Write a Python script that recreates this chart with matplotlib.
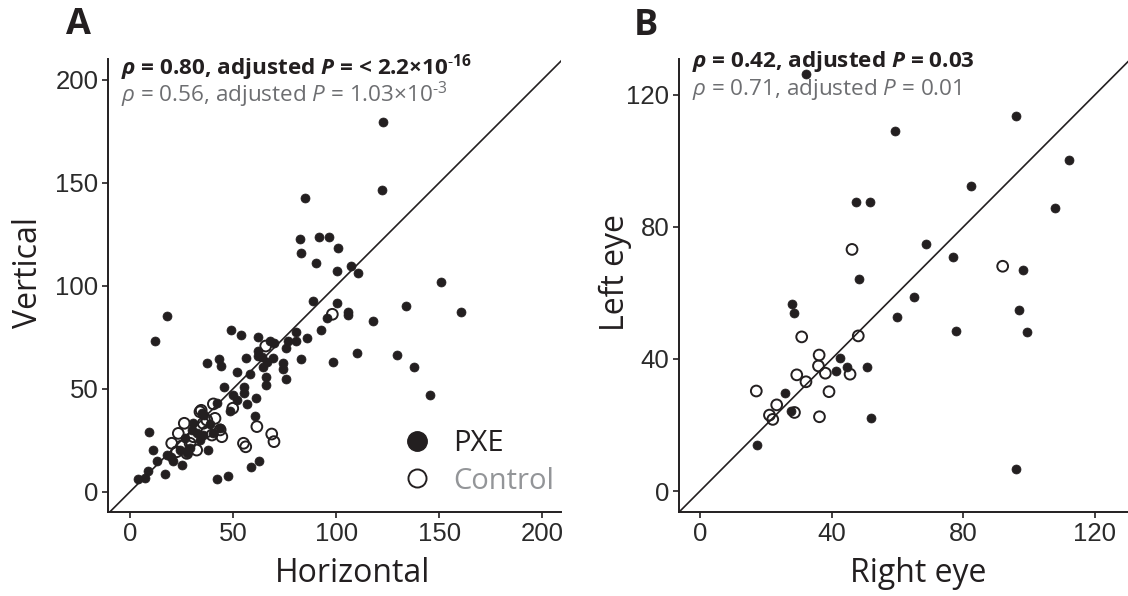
import matplotlib
matplotlib.use("Agg")
import matplotlib.pyplot as plt
from matplotlib.lines import Line2D

# ---------------- data ----------------
# Panel A: PXE (filled) horizontal / vertical
pxe_a_x = [122.5, 122, 84.7, 82.6, 82.9, 91.8, 96.5, 101, 90.2, 100.5, 107, 110.7,
           150.8, 133.8, 160.3, 88.9, 100.2, 105.9, 105.9, 95.4, 118, 92.6, 80.3, 80.3,
           76.8, 85.7, 75.8, 82.7, 98.3, 110.2, 129.6, 137.9, 145.6, 17.9, 12.3, 49.1,
           53.7, 62.2, 67.9, 69.8, 56.1, 61.9, 61.9, 37.5, 43.3, 44.3, 51.7, 58.2,
           63.9, 64.6, 66, 66, 69.5, 74, 74, 75.5, 66.3, 45.6, 55.3, 55.3, 50.1, 51.7,
           56.6, 61.1, 48.5, 42, 60.6, 9.4, 11.3, 12.9, 8.9, 4, 7.3, 17.1, 58.5, 62.7,
           42.3, 47.7, 17.8, 21, 25, 29.1, 32.3, 34.8, 38, 40.4, 43.6, 26.7, 30.7,
           33.9, 35.5, 27.5, 36, 39, 30, 24, 20]
pxe_a_y = [179.6, 146.6, 142.7, 122.7, 116, 123.6, 123.8, 118.4, 111.2, 107.3, 109.7, 106,
           101.8, 90.1, 87.4, 92.6, 91.4, 87.4, 85.8, 84.2, 82.7, 78.5, 77.5, 73.3,
           73.3, 74.5, 69.6, 64.4, 63.1, 67.2, 66.2, 60.4, 47.1, 85.4, 73.3, 78.5,
           76.1, 75, 73.3, 72, 64.8, 66, 68.4, 62.6, 64.4, 61, 58, 57.1,
           65.5, 60.7, 55.8, 51.8, 64.8, 62.3, 59.4, 54.6, 63.1, 51, 50.7, 47.8, 46.9, 44.5,
           42.6, 45.3, 39.3, 42.9, 36.9, 28.8, 20.2, 14.9, 10, 6.2, 6.8, 8.6, 11.8, 15,
           6, 7.8, 17.8, 14.9, 13, 21, 28.3, 38, 20.2, 28.3, 30.8, 25.9, 33.2,
           25.1, 27.5, 18.6, 37, 33, 30, 20, 17]
# Panel A: Control (open)
ctl_a_x = [98.1, 65.8, 61.5, 55, 56.1, 68.7, 69.8, 49.8, 40.4, 33.9, 41.2, 26.3, 23.4,
           20.2, 22.6, 27.5, 32.3, 30.7, 37.2, 37.2, 44.5, 39.7, 35.5, 29.1, 25, 34.5, 43.7]
ctl_a_y = [86.1, 70.7, 31.6, 23.5, 21.8, 28, 24.3, 40.5, 42.6, 38.8, 35.6, 33.2, 28.3,
           23.5, 19.4, 18.6, 20.2, 26.7, 29.1, 34.8, 26.7, 27.5, 33.2, 23.5, 22.2, 39.5, 30]

# Panel B: PXE right eye / left eye
pxe_b_x = [32.1, 96, 59.3, 112.2, 82.5, 47.3, 51.7, 107.9, 68.7, 76.8, 98.1, 48.3, 65,
           59.9, 28, 28.7, 96.9, 77.7, 99.3, 42.5, 41.4, 44.6, 50.9, 25.8, 27.6, 52.1,
           17.3, 96]
pxe_b_y = [126.3, 113.6, 109.2, 100.4, 92.3, 87.6, 87.6, 85.7, 74.9, 71, 67, 64.3, 58.7,
           52.6, 56.7, 53.8, 54.8, 48.6, 48.3, 40.4, 36.4, 37.5, 37.7, 29.6, 24.2, 22.2,
           13.9, 6.7]
# Panel B: Control
ctl_b_x = [46.2, 92, 48.1, 30.9, 36.2, 36, 38.1, 45.6, 29.4, 32.2, 39.2, 17.1, 23.3,
           21.1, 22.1, 28.7, 36.3]
ctl_b_y = [73.2, 68.1, 47, 46.7, 41.2, 37.9, 35.7, 35.4, 35.2, 33.1, 30.1, 30.3, 26.1,
           23, 21.7, 23.8, 22.5]

ticks_a = [0, 50, 100, 150, 200]
ticks_b = [0, 40, 80, 120]

stats_a = [r"$\mathbf{\rho}$ = 0.80, adjusted $\mathbf{P}$ = < 2.2×10$^{\mathsf{‐16}}$",
           r"$\rho$ = 0.56, adjusted $P$ = 1.03×10$^{‐3}$"]
stats_b = [r"$\mathbf{\rho}$ = 0.42, adjusted $\mathbf{P}$ = 0.03",
           r"$\rho$ = 0.71, adjusted $P$ = 0.01"]

# ---------------- style ----------------
plt.rcParams['font.family'] = ['Open Sans', 'DejaVu Sans']
plt.rcParams['mathtext.fontset'] = 'custom'
plt.rcParams['mathtext.rm'] = 'Open Sans'
plt.rcParams['mathtext.it'] = 'Open Sans:italic'
plt.rcParams['mathtext.bf'] = 'Open Sans:italic:bold'
plt.rcParams['mathtext.sf'] = 'Open Sans:bold'

BLACK = '#231f20'
GRAY_TXT = '#6d6e71'
GRAY_LEG = '#939598'

fig = plt.figure(figsize=(11.28, 5.96), dpi=100)
axA = fig.add_axes([108 / 1128, 84 / 596, 453 / 1128, 453 / 596])
axB = fig.add_axes([679 / 1128, 84 / 596, 449 / 1128, 453 / 596])


def style(ax, ticks, xlim, ylim, xlabel, ylabel):
    ax.set_xlim(*xlim)
    ax.set_ylim(*ylim)
    for s in ['top', 'right']:
        ax.spines[s].set_visible(False)
    for s in ['left', 'bottom']:
        ax.spines[s].set_linewidth(1.4)
        ax.spines[s].set_color(BLACK)
    ax.set_xticks(ticks)
    ax.set_yticks(ticks)
    ax.tick_params(direction='out', length=4, width=1.2, color=BLACK,
                   labelsize=18.5, labelcolor='#2a2a2a', pad=3)
    for lab in ax.get_xticklabels() + ax.get_yticklabels():
        lab.set_fontfamily('Liberation Sans')
    ax.set_xlabel(xlabel, fontsize=23, color=BLACK)
    ax.set_ylabel(ylabel, fontsize=23, color=BLACK)
    ax.axline((0, 0), slope=1, color=BLACK, lw=1.2, zorder=1)


def draw(ax, fx, fy, cx, cy):
    ax.scatter(fx, fy, s=42, color=BLACK, edgecolors=BLACK, linewidths=0.5, zorder=2)
    ax.scatter(cx, cy, s=60, facecolors='none', edgecolors=BLACK, linewidths=1.4, zorder=3)


style(axA, ticks_a, (-10.7, 209), (-9.85, 210), 'Horizontal', 'Vertical')
style(axB, ticks_b, (-6.4, 130.1), (-6.36, 130.9), 'Right eye', 'Left eye')
draw(axA, pxe_a_x, pxe_a_y, ctl_a_x, ctl_a_y)
draw(axB, pxe_b_x, pxe_b_y, ctl_b_x, ctl_b_y)

axA.xaxis.set_label_coords(0.539, -0.100)
axA.yaxis.set_label_coords(-0.140, 0.528)
axB.xaxis.set_label_coords(0.532, -0.100)
axB.yaxis.set_label_coords(-0.105, 0.528)

axA.text(0.029, 0.982, stats_a[0], transform=axA.transAxes, fontsize=16.2,
         fontweight='bold', color=BLACK, va='center', ha='left')
axA.text(0.029, 0.920, stats_a[1], transform=axA.transAxes, fontsize=16.2,
         color=GRAY_TXT, va='center', ha='left')
axB.text(0.029, 0.994, stats_b[0], transform=axB.transAxes, fontsize=16.2,
         fontweight='bold', color=BLACK, va='center', ha='left')
axB.text(0.029, 0.932, stats_b[1], transform=axB.transAxes, fontsize=16.2,
         color=GRAY_TXT, va='center', ha='left')

handles = [Line2D([], [], ls='none', marker='o', markersize=14, color=BLACK),
           Line2D([], [], ls='none', marker='o', markersize=13, markerfacecolor='none',
                  markeredgecolor=BLACK, markeredgewidth=1.4)]
leg = axA.legend(handles, ['PXE', 'Control'], loc='center left',
                 bbox_to_anchor=(0.651, 0.11), frameon=False, fontsize=21,
                 handlelength=1.0, handletextpad=0.72, labelspacing=0.3,
                 borderpad=0, borderaxespad=0)
leg.get_texts()[0].set_color(BLACK)
leg.get_texts()[1].set_color(GRAY_LEG)

fig.text(78 / 1128, 1 - 25 / 596, 'A', fontsize=26, fontweight='bold', color=BLACK,
         ha='center', va='center')
fig.text(646 / 1128, 1 - 26 / 596, 'B', fontsize=26, fontweight='bold', color=BLACK,
         ha='center', va='center')

fig.savefig('out.png', dpi=100)
